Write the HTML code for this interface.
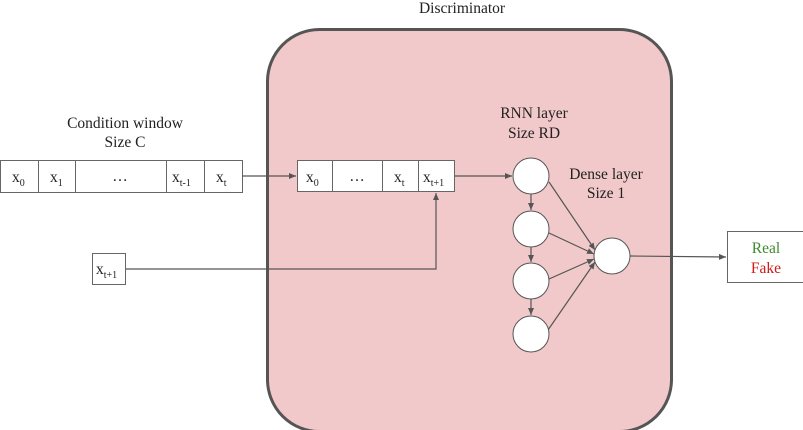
<!DOCTYPE html>
<html><head><meta charset="utf-8"><style>
html,body{margin:0;padding:0;background:#fff;}
svg{display:block;}
text{font-family:"Liberation Serif","DejaVu Serif",serif;font-size:15.5px;fill:#222;}
.s{font-size:10px;}
</style></head><body>
<svg width="803" height="430" viewBox="0 0 803 430" xmlns="http://www.w3.org/2000/svg">
<defs>
<marker id="a" markerWidth="8" markerHeight="8" refX="7" refY="4" orient="auto" markerUnits="userSpaceOnUse">
<path d="M0,1 L7,4 L0,7 z" fill="#555"/></marker>
</defs>
<text x="462" y="13" text-anchor="middle">Discriminator</text>
<rect x="267.5" y="29.5" width="404" height="402" rx="52" fill="#f2c9ca" stroke="#555" stroke-width="3"/>
<text x="125" y="128" text-anchor="middle">Condition window</text>
<text x="125" y="147" text-anchor="middle">Size C</text>
<text x="534" y="118" text-anchor="middle">RNN layer</text>
<text x="534" y="138" text-anchor="middle">Size RD</text>
<text x="606" y="179" text-anchor="middle">Dense layer</text>
<text x="606" y="198" text-anchor="middle">Size 1</text>
<!-- left array -->
<g fill="#fff" stroke="#666" stroke-width="1">
<rect x="0.5" y="160.5" width="38" height="32"/>
<rect x="38.5" y="160.5" width="37" height="32"/>
<rect x="75.5" y="160.5" width="91" height="32"/>
<rect x="166.5" y="160.5" width="38" height="32"/>
<rect x="204.5" y="160.5" width="38" height="32"/>
<rect x="297.5" y="160.5" width="35" height="31"/>
<rect x="332.5" y="160.5" width="50" height="31"/>
<rect x="382.5" y="160.5" width="36" height="31"/>
<rect x="418.5" y="160.5" width="36" height="31"/>
<rect x="92.5" y="253.5" width="33" height="31"/>
<rect x="727.5" y="231.5" width="76" height="51"/>
</g>
<g>
<text x="12" y="182">x<tspan class="s" dy="4">0</tspan></text>
<text x="50" y="182">x<tspan class="s" dy="4">1</tspan></text>
<text x="120" y="181" text-anchor="middle" font-size="12">…</text>
<text x="172" y="182">x<tspan class="s" dy="4">t-1</tspan></text>
<text x="216" y="182">x<tspan class="s" dy="4">t</tspan></text>
<text x="306" y="182">x<tspan class="s" dy="4">0</tspan></text>
<text x="357" y="181" text-anchor="middle" font-size="12">…</text>
<text x="394" y="182">x<tspan class="s" dy="4">t</tspan></text>
<text x="423" y="182">x<tspan class="s" dy="4">t+1</tspan></text>
<text x="96" y="274">x<tspan class="s" dy="4">t+1</tspan></text>
</g>
<text x="766" y="253" text-anchor="middle" style="fill:#3f8a2e">Real</text>
<text x="766" y="273" text-anchor="middle" style="fill:#d11a1a">Fake</text>
<g stroke="#555" stroke-width="1.2" fill="none">
<line x1="242" y1="176" x2="296" y2="176" marker-end="url(#a)"/>
<polyline points="126,269 436,269 436,193" marker-end="url(#a)"/>
<line x1="455" y1="176" x2="512" y2="176" marker-end="url(#a)"/>
<line x1="531" y1="194" x2="531" y2="210" marker-end="url(#a)"/>
<line x1="531" y1="247" x2="531" y2="262" marker-end="url(#a)"/>
<line x1="531" y1="299" x2="531" y2="315" marker-end="url(#a)"/>
<line x1="549" y1="182" x2="595" y2="250" marker-end="url(#a)"/>
<line x1="549" y1="233" x2="594" y2="254" marker-end="url(#a)"/>
<line x1="549" y1="279" x2="594" y2="259" marker-end="url(#a)"/>
<line x1="548" y1="330" x2="595" y2="262" marker-end="url(#a)"/>
<line x1="630" y1="256" x2="726" y2="257" marker-end="url(#a)"/>
</g>
<g fill="#fff" stroke="#555" stroke-width="1">
<circle cx="531" cy="176" r="18"/>
<circle cx="531" cy="229" r="18"/>
<circle cx="531" cy="281" r="18"/>
<circle cx="531" cy="334" r="18"/>
<circle cx="612" cy="256" r="18"/>
</g>
</svg>
</body></html>
